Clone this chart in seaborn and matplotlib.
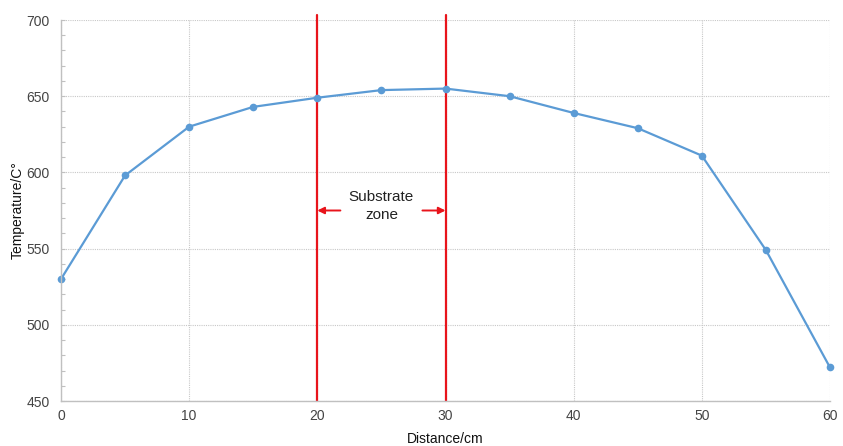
import numpy as np
import pandas as pd
import seaborn as sns
import matplotlib.pyplot as plt
from matplotlib.ticker import MultipleLocator

# data
distance = [0, 5, 10, 15, 20, 25, 30, 35, 40, 45, 50, 55, 60]
temperature = [530, 598, 630, 643, 649, 654, 655, 650, 639, 629, 611, 549, 472]
zone_edges = [20, 30]

df = pd.DataFrame({"Distance": distance, "Temperature": temperature})

sns.set_style("white")
plt.rcParams['font.family'] = ['Liberation Sans', 'DejaVu Sans']

fig = plt.figure(figsize=(8.43, 4.46), dpi=100)
ax = fig.add_axes([61 / 843, 45 / 446, 769 / 843, 381 / 446])

sns.lineplot(data=df, x="Distance", y="Temperature", ax=ax, color="#5b9bd5",
             marker="o", markersize=5.5, markeredgewidth=0, linewidth=1.6)
for ln in ax.lines:
    ln.set_clip_on(False)

ax.set_xlim(0, 60)
ax.set_ylim(450, 700)
ax.xaxis.set_major_locator(MultipleLocator(10))
ax.yaxis.set_major_locator(MultipleLocator(50))
ax.yaxis.set_minor_locator(MultipleLocator(10))

ax.grid(True, which="major", color="#c8c8c8", linestyle=(0, (1, 1)), linewidth=0.8)
ax.set_axisbelow(True)
for side in ["top", "right"]:
    ax.spines[side].set_visible(False)
for side in ["left", "bottom"]:
    ax.spines[side].set_color("#c0c0c0")
    ax.spines[side].set_linewidth(1.0)

ax.tick_params(axis="x", which="major", length=0, labelsize=10, colors="#444444", pad=6)
ax.tick_params(axis="y", which="both", left=True, direction="in", length=3,
               color="#c0c0c0", width=0.8)
ax.tick_params(axis="y", which="major", labelsize=10, labelcolor="#444444", pad=8)

ax.set_xlabel("Distance/cm", fontsize=10, color="#111111", labelpad=6)
ax.set_ylabel("Temperature/C°", fontsize=10, color="#111111", labelpad=1)

# substrate zone
for xe in zone_edges:
    ax.axvline(xe, ymin=0, ymax=1.013, color="#e8141b", linewidth=1.6, clip_on=False, zorder=1)

ax.annotate("", xy=(zone_edges[0], 575), xytext=(zone_edges[0] + 1.8, 575),
            arrowprops=dict(arrowstyle="-|>", color="#e8141b", lw=1.4, mutation_scale=10,
                            shrinkA=0, shrinkB=0))
ax.annotate("", xy=(zone_edges[1], 575), xytext=(zone_edges[1] - 1.8, 575),
            arrowprops=dict(arrowstyle="-|>", color="#e8141b", lw=1.4, mutation_scale=10,
                            shrinkA=0, shrinkB=0))
ax.text(sum(zone_edges) / 2, 578, "Substrate\nzone", ha="center", va="center",
        fontsize=11, color="#222222", linespacing=1.3)

fig.savefig("out.png", dpi=100)
